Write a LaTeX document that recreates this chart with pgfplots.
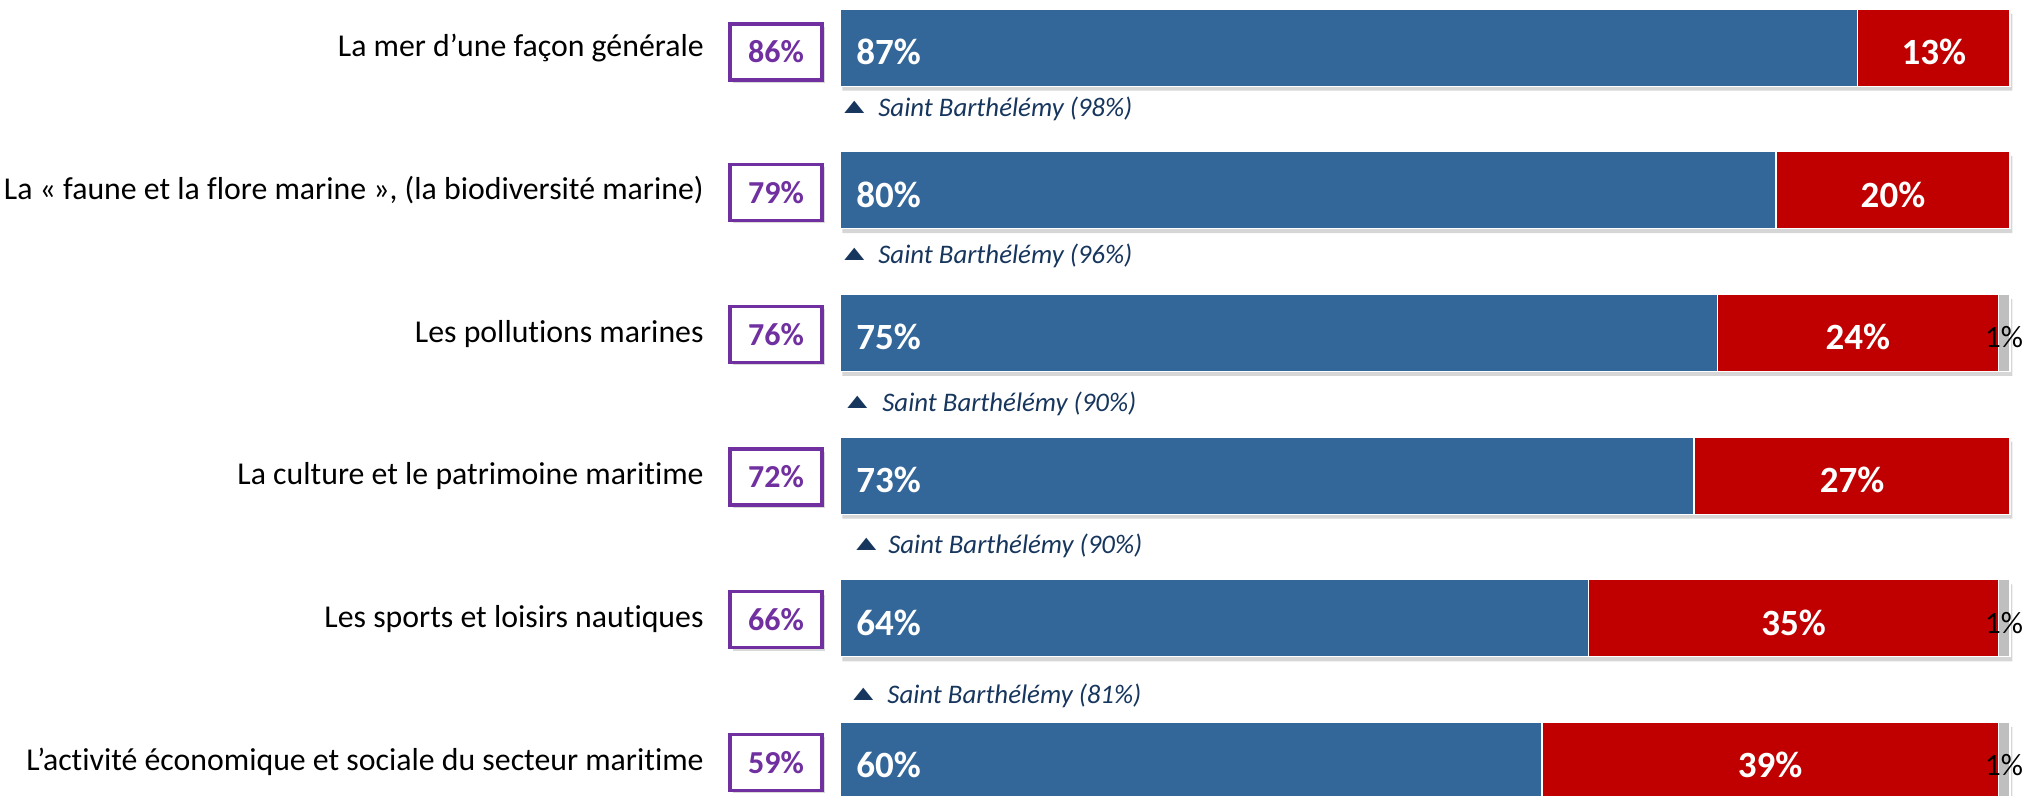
\documentclass[border=0pt]{standalone}
\usepackage{fontspec}
\setmainfont{Carlito}[Ligatures=NoCommon]
\newfontfamily\symf{DejaVu Sans}
\usepackage{xcolor}
\definecolor{oui}{RGB}{52,103,153}
\definecolor{non}{RGB}{192,0,0}
\definecolor{nsp}{RGB}{191,191,191}
\definecolor{violet}{RGB}{112,48,160}
\definecolor{marine}{RGB}{23,54,93}
\usepackage{pgfplots}
\usepackage{pgfplotstable}
\pgfplotsset{compat=1.18}
\usetikzlibrary{shadows,calc}

% oui / non / nsp, one row per item (0 = top)
\pgfplotstableread{
row oui non nsp
0 87 13 0
1 80 20 0
2 75 24 1
3 73 27 0
4 64 35 1
5 60 39 1
}\scores

\pgfplotsset{
  frame/.style={
    scale only axis, width=1013pt, height=398pt,
    xmin=-71.79, xmax=101.37, ymin=-0.334, ymax=5.245,
    y dir=reverse, hide axis, clip=false, bar width=38.5pt,
  },
}

\newcommand{\catf}{\fontsize{15.9}{19}\selectfont}
\newcommand{\valf}{\bfseries\fontsize{18.5}{22}\selectfont}
\newcommand{\boxf}{\bfseries\fontsize{16}{19}\selectfont}
\newcommand{\annf}{\itshape\fontsize{13.4}{16}\selectfont}
\newcommand{\nspf}{\fontsize{15.5}{18}\selectfont}
\newcommand{\trif}{\symf\fontsize{13}{14}\selectfont}

\tikzset{
  cat/.style={anchor=base east, font=\catf, text=black, inner sep=0pt},
  val/.style={font=\valf, text=white, inner sep=0pt},
  box/.style={draw=violet, line width=1.6pt, fill=white, minimum width=46pt,
    minimum height=28pt, inner sep=0pt, font=\boxf, text=violet,
    drop shadow={shadow xshift=1.5pt, shadow yshift=-1.5pt, opacity=0.3}},
  ann/.style={anchor=west, font=\annf, text=marine, inner sep=0pt},
  tri/.style={anchor=west, font=\trif, text=marine, inner sep=0pt},
  nr/.style={font=\nspf, text=black, inner sep=0pt},
}
\newcommand{\up}{\scalebox{1}[0.62]{▲}}

\begin{document}
\begin{tikzpicture}
\useasboundingbox (0,0) rectangle (1013pt,398pt);
% soft shadow under the bars
\begin{axis}[frame, at={(1.2pt,-2.2pt)}, anchor=south west, xbar]
\addplot[fill=black, opacity=0.16, draw=none]
  table[x expr=\thisrow{oui}+\thisrow{non}+\thisrow{nsp}, y=row] {\scores};
\end{axis}

\begin{axis}[frame, at={(0,0)}, anchor=south west, xbar stacked,
  every axis plot/.append style={draw=white, line width=0.6pt},
]
\addplot[fill=oui] table[x=oui, y=row] {\scores};
\addplot[fill=non] table[x=non, y=row] {\scores};
\addplot[fill=nsp] table[x=nsp, y=row] {\scores};
% axis frame, kept for the labels drawn on top below
\coordinate (O) at (axis cs:0,0);
\coordinate (X) at (axis cs:1,0);
\coordinate (Y) at (axis cs:0,1);
\end{axis}

\begin{scope}[shift={(O)}, x={($(X)-(O)$)}, y={($(Y)-(O)$)}]
% row 0
\node[cat] at (-11.62,0.065) {La mer d’une façon générale};
\node[box] at (-5.47,0.03) {86\%};
\node[val, anchor=west] at (1.37,0.03) {87\%};
\node[val] at (93.5,0.03) {13\%};
\node[tri] at (0.35,0.418) {\up};
\node[ann] at (3.25,0.428) {Saint Barthélémy (98\%)};

% row 1
\node[cat] at (-11.62,1.065) {La « faune et la flore marine », (la biodiversité marine)};
\node[box] at (-5.47,1.015) {79\%};
\node[val, anchor=west] at (1.37,1.03) {80\%};
\node[val] at (90,1.03) {20\%};
\node[tri] at (0.35,1.448) {\up};
\node[ann] at (3.25,1.458) {Saint Barthélémy (96\%)};

% row 2
\node[cat] at (-11.62,2.065) {Les pollutions marines};
\node[box] at (-5.47,2.01) {76\%};
\node[val, anchor=west] at (1.37,2.03) {75\%};
\node[val] at (87,2.03) {24\%};
\node[nr] at (99.5,2.03) {1\%};
\node[tri] at (0.6,2.485) {\up};
\node[ann] at (3.59,2.495) {Saint Barthélémy (90\%)};

% row 3
\node[cat] at (-11.62,3.065) {La culture et le patrimoine maritime};
\node[box] at (-5.47,3.01) {72\%};
\node[val, anchor=west] at (1.37,3.03) {73\%};
\node[val] at (86.5,3.03) {27\%};
\node[tri] at (1.37,3.481) {\up};
\node[ann] at (4.1,3.491) {Saint Barthélémy (90\%)};

% row 4
\node[cat] at (-11.62,4.065) {Les sports et loisirs nautiques};
\node[box] at (-5.47,4.01) {66\%};
\node[val, anchor=west] at (1.37,4.03) {64\%};
\node[val] at (81.5,4.03) {35\%};
\node[nr] at (99.5,4.03) {1\%};
\node[tri] at (1.12,4.532) {\up};
\node[ann] at (4.02,4.542) {Saint Barthélémy (81\%)};

% row 5
\node[cat] at (-11.62,5.065) {L’activité économique et sociale du secteur maritime};
\node[box] at (-5.47,5.01) {59\%};
\node[val, anchor=west] at (1.37,5.03) {60\%};
\node[val] at (79.5,5.03) {39\%};
\node[nr] at (99.5,5.03) {1\%};
\end{scope}
\end{tikzpicture}
\end{document}
